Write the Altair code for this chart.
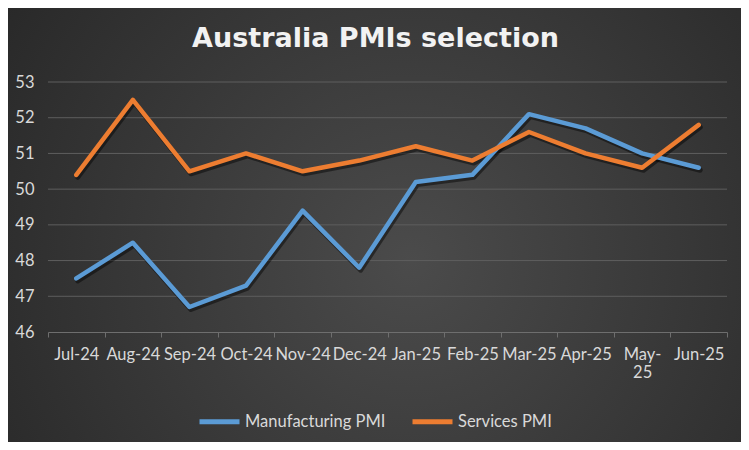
import altair as alt
import pandas as pd

months = ["Jul-24", "Aug-24", "Sep-24", "Oct-24", "Nov-24", "Dec-24",
          "Jan-25", "Feb-25", "Mar-25", "Apr-25", "May-25", "Jun-25"]
manufacturing = [47.5, 48.5, 46.7, 47.3, 49.4, 47.8, 50.2, 50.4, 52.1, 51.7, 51.0, 50.6]
services = [50.4, 52.5, 50.5, 51.0, 50.5, 50.8, 51.2, 50.8, 51.6, 51.0, 50.6, 51.8]
series_names = ["Manufacturing PMI", "Services PMI"]
series_colors = ["#5B9BD5", "#ED7D31"]
y_ticks = [46, 47, 48, 49, 50, 51, 52, 53]
title_text = "Australia PMIs selection"

rows = []
for i, m in enumerate(months):
    rows.append({"month": m, "series": series_names[0], "value": manufacturing[i], "order": i})
    rows.append({"month": m, "series": series_names[1], "value": services[i], "order": i})
df = pd.DataFrame(rows)
grid_df = pd.DataFrame({"value": y_ticks[1:]})

W, H = 679, 250
PL, PT, PR, PB = 40, 74, 14, 110
FONT = "Lato"
FS = 16.5

bg = alt.Chart(pd.DataFrame({"a": [0]})).mark_rect(
    fill=alt.RadialGradient(
        gradient="radial", x1=0.55, y1=0.55, x2=0.55, y2=0.55, r1=0, r2=0.75,
        stops=[alt.GradientStop(offset=0, color="#4b4b4b"),
               alt.GradientStop(offset=1, color="#242424")]),
    strokeWidth=0
).encode(
    x=alt.value(-PL), x2=alt.value(W + PR),
    y=alt.value(-PT), y2=alt.value(H + PB)
)

y_scale = alt.Scale(domain=[46, 53], nice=False, zero=False)

y_axis = alt.Axis(title=None, values=y_ticks, zindex=1,
                  domain=False, ticks=False, grid=False, labelOverlap=False,
                  labelColor="#d9d9d9", labelFont=FONT, labelFontSize=FS,
                  labelPadding=14)

grid = alt.Chart(grid_df).mark_rule(color="#5e5e5e", strokeWidth=1).encode(
    y=alt.Y("value:Q", scale=y_scale, axis=y_axis),
    x=alt.value(0), x2=alt.value(W)
)

x_enc = alt.X("month:N", sort=months, bandPosition=0.5,
              scale=alt.Scale(type="band", paddingInner=0, paddingOuter=0),
              axis=alt.Axis(title=None, labelAngle=0, tickBand="extent", zindex=1,
                            domainColor="#6e6e6e", tickColor="#6e6e6e", tickSize=5,
                            labelColor="#d9d9d9", labelFont=FONT, labelFontSize=FS,
                            labelPadding=9, grid=False, labelOverlap=False,
                            labelExpr="datum.label == 'May-25' ? ['May-', '25'] : datum.label"))
y_enc = alt.Y("value:Q", scale=y_scale, axis=y_axis)

shadow = alt.Chart(df).mark_line(
    strokeWidth=5, color="#000000", opacity=0.45, xOffset=1.5, yOffset=2.5,
    strokeJoin="round", strokeCap="round"
).encode(x=x_enc, y=y_enc, detail="series:N", order="order:Q")

lines = alt.Chart(df).mark_line(
    strokeWidth=4.5, strokeJoin="round", strokeCap="round"
).encode(
    x=x_enc, y=y_enc, order="order:Q",
    color=alt.Color("series:N",
                    scale=alt.Scale(domain=series_names, range=series_colors),
                    legend=alt.Legend(title=None, orient="none", direction="horizontal",
                                      legendX=149, legendY=317,
                                      symbolType="stroke", symbolSize=1600,
                                      symbolStrokeWidth=5, labelFont=FONT,
                                      labelFontSize=FS, labelColor="#d9d9d9",
                                      labelOffset=3, columnPadding=16))
)

title_df = pd.DataFrame({"t": [title_text]})
title = alt.Chart(title_df).mark_text(
    font="DejaVu Sans", fontSize=27, fontWeight="bold", color="#f2f2f2",
    align="center", baseline="middle"
).encode(text="t:N", x=alt.value(W / 2 - 12), y=alt.value(-43))

chart = alt.layer(bg, grid, shadow, lines, title).properties(
    width=W, height=H,
    autosize=alt.AutoSizeParams(type="none"),
    padding={"left": PL, "top": PT, "right": PR, "bottom": PB},
    background="#2a2a2a"
).configure_view(stroke=None)

chart.save("out.html", embed_options={"renderer": "svg", "actions": False})
